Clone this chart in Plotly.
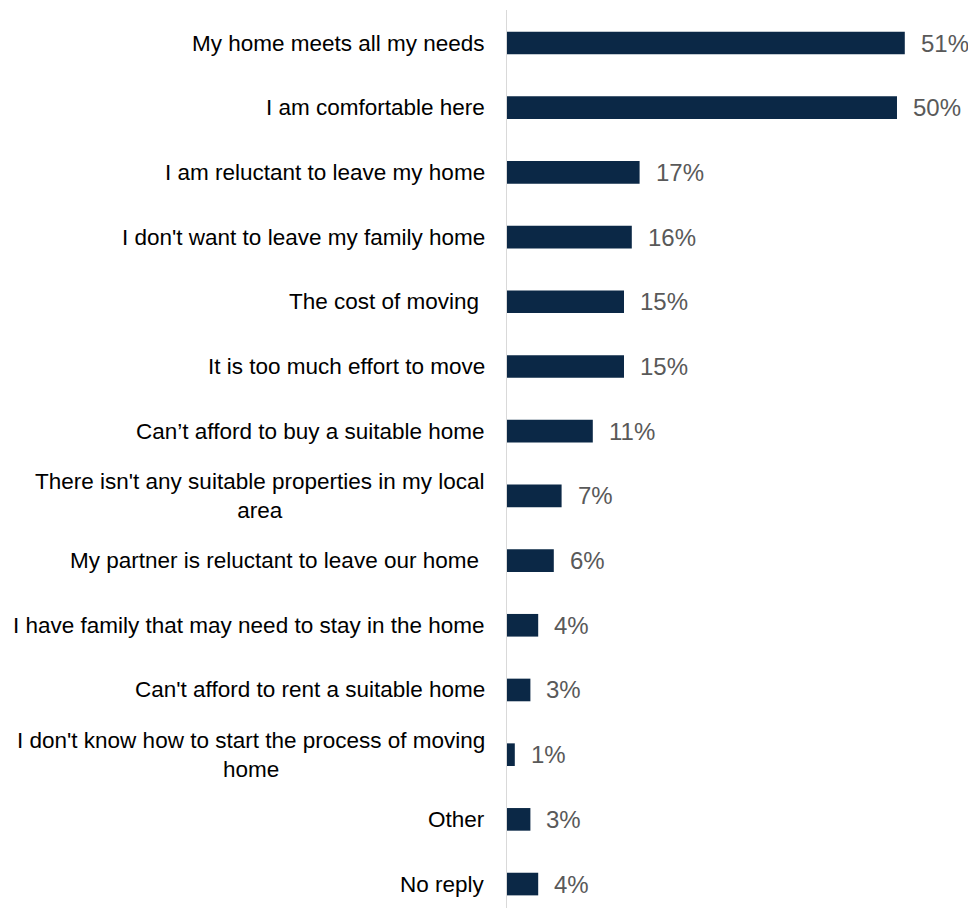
import plotly.graph_objects as go

categories = [
    "My home meets all my needs",
    "I am comfortable here",
    "I am reluctant to leave my home",
    "I don't want to leave my family home",
    "The cost of moving\u00a0",
    "It is too much effort to move",
    "Can\u2019t afford to buy a suitable home",
    "There isn't any suitable properties in my local<br>area",
    "My partner is reluctant to leave our home\u00a0",
    "I have family that may need to stay in the home",
    "Can't afford to rent a suitable home",
    "I don't know how to start the process of moving<br>home",
    "Other",
    "No reply",
]
values = [51, 50, 17, 16, 15, 15, 11, 7, 6, 4, 3, 1, 3, 4]
value_labels = [f"{v}%" for v in values]

BAR_COLOR = "#0b2846"
FONT = "Liberation Sans, Arial, sans-serif"

fig = go.Figure()
fig.add_trace(go.Bar(
    x=values,
    y=categories,
    orientation="h",
    marker=dict(color=BAR_COLOR, line=dict(width=0)),
    width=0.35,
    hoverinfo="skip",
))

annotations = []
for cat, v, lab in zip(categories, values, value_labels):
    annotations.append(dict(
        x=0, xref="paper", y=cat, yref="y",
        text=cat, showarrow=False, xanchor="right", yanchor="middle",
        align="center", xshift=-20,
        font=dict(family=FONT, size=22.5, color="#000000"),
    ))
    annotations.append(dict(
        x=v, xref="x", y=cat, yref="y",
        text=lab, showarrow=False, xanchor="left", yanchor="middle",
        xshift=14,
        font=dict(family=FONT, size=24, color="#595959"),
    ))

fig.update_layout(
    width=968, height=900,
    margin=dict(l=499, r=0, t=2, b=0, pad=0),
    paper_bgcolor="white", plot_bgcolor="white",
    showlegend=False,
    xaxis=dict(range=[0, 60.13], visible=False, fixedrange=True),
    yaxis=dict(
        type="category",
        categoryorder="array", categoryarray=categories,
        range=[13.37, -0.51],
        showticklabels=False, ticks="",
        showgrid=False, zeroline=False,
        showline=True, linecolor="#d9d9d9", linewidth=1,
    ),
    annotations=annotations,
    font=dict(family=FONT),
)

fig.write_html("out.html")
